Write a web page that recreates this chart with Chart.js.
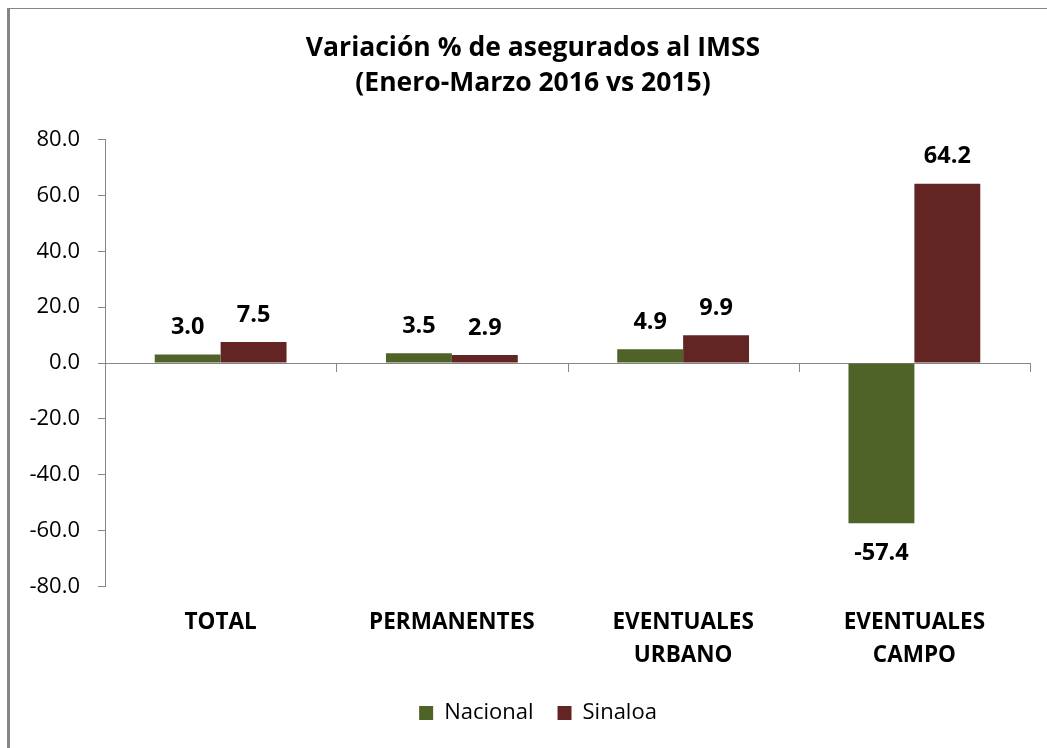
<!DOCTYPE html>
<html>
<head>
<meta charset="utf-8">
<script src="https://cdn.jsdelivr.net/npm/chart.js@4.4.1/dist/chart.umd.min.js"></script>
<style>
	html, body { margin: 0; padding: 0; background: #fff; }
	#wrap { position: relative; width: 1047px; height: 748px; overflow: hidden; }
	#frame { position: absolute; left: 7px; top: 8px; right: -10px; bottom: -10px; border-left: 3px solid #868686; border-top: 1px solid #868686; }
	#chart { position: absolute; left: 0; top: 0; }
</style>
</head>
<body>
<div id="wrap">
	<div id="frame"></div>
	<canvas id="chart" width="1047" height="748"></canvas>
</div>
<script>

	/* Data */
	var categories = ['TOTAL', 'PERMANENTES', ['EVENTUALES', 'URBANO'], ['EVENTUALES', 'CAMPO']];
	var nacional = [3.0, 3.5, 4.9, -57.4];
	var sinaloa = [7.5, 2.9, 9.9, 64.2];
	var yMin = -80;
	var yMax = 80;
	var yStep = 20;
	var titleLines = ['Variación % de asegurados al IMSS', '(Enero-Marzo 2016 vs 2015)'];

	var axisGray = '#868686';
	var fontFamily = '"Open Sans", "Liberation Sans", sans-serif';
	var legendShift = 10;
	var titleShift = 5;


	/* ********************************

	    Plugins - value labels, category ticks, nudges

	******************************** */

	var valueLabels = {
		id: 'valueLabels',
		afterDatasetsDraw: function(chart) {
			var ctx = chart.ctx;
			ctx.save();
			ctx.font = 'bold 23.5px ' + fontFamily;
			ctx.fillStyle = '#000';
			ctx.textAlign = 'center';
			ctx.textBaseline = 'middle';
			chart.data.datasets.forEach(function(ds, i) {
				chart.getDatasetMeta(i).data.forEach(function(bar, j) {
					var v = ds.data[j];
					var y = v >= 0 ? bar.y - 27 : bar.y + 30;
					ctx.fillText(v.toFixed(1), bar.x, y);
				});
			});
			ctx.restore();
		}
	};

	var categoryTicks = {
		id: 'categoryTicks',
		afterDatasetsDraw: function(chart) {
			var x = chart.scales.x;
			var y0 = chart.scales.y.getPixelForValue(0);
			var step = x.width / categories.length;
			var ctx = chart.ctx;
			ctx.save();
			ctx.strokeStyle = axisGray;
			ctx.lineWidth = 1;
			ctx.beginPath();
			for (var i = 1; i <= categories.length; i++) {
				var px = Math.round(x.left + i * step) + 0.5;
				ctx.moveTo(px, y0);
				ctx.lineTo(px, y0 + 9);
			}
			ctx.stroke();
			ctx.restore();
		}
	};

	var boxNudge = {
		id: 'boxNudge',
		afterLayout: function(chart) {
			if (chart.legend) {
				chart.legend.left += legendShift;
				chart.legend.right += legendShift;
			}
			if (chart.titleBlock) {
				chart.titleBlock.left += titleShift;
				chart.titleBlock.right += titleShift;
			}
		}
	};


	/* ********************************

	    Chart

	******************************** */

	var chart = new Chart(document.getElementById('chart'), {
		type: 'bar',
		data: {
			labels: categories,
			datasets: [{
				label: 'Nacional',
				data: nacional,
				backgroundColor: '#4F6228'
			}, {
				label: 'Sinaloa',
				data: sinaloa,
				backgroundColor: '#632523'
			}]
		},
		plugins: [valueLabels, categoryTicks, boxNudge],
		options: {
			responsive: false,
			animation: false,
			layout: {
				padding: { left: 26, right: 17, top: 0, bottom: 14 }
			},
			datasets: {
				bar: { categoryPercentage: 0.57, barPercentage: 1.0 }
			},
			plugins: {
				title: {
					display: true,
					text: titleLines,
					color: '#000',
					font: { family: fontFamily, size: 26.5, weight: 'bold', lineHeight: '35px' },
					padding: { top: 30.5, bottom: 39 }
				},
				legend: {
					position: 'bottom',
					labels: {
						color: '#000',
						boxWidth: 14,
						boxHeight: 14,
						padding: 24,
						font: { family: fontFamily, size: 22 }
					}
				},
				tooltip: { enabled: false }
			},
			scales: {
				x: {
					grid: { display: false },
					border: { display: false },
					ticks: {
						color: '#000',
						padding: 12,
						maxRotation: 0,
						autoSkip: false,
						font: { family: fontFamily, size: 22.5, weight: 'bold', lineHeight: '33px' }
					},
					afterFit: function(s) { s.height = 91.5; }
				},
				y: {
					min: yMin,
					max: yMax,
					border: { color: axisGray, width: 1 },
					grid: {
						color: function(c) { return c.tick && c.tick.value === 0 ? axisGray : 'rgba(0,0,0,0)'; },
						tickColor: axisGray,
						tickLength: 7
					},
					ticks: {
						stepSize: yStep,
						color: '#000',
						padding: 18,
						font: { family: fontFamily, size: 22 },
						callback: function(v) { return v.toFixed(1); }
					},
					afterFit: function(s) { s.width = 79; }
				}
			}
		}
	});

</script>
</body>
</html>
